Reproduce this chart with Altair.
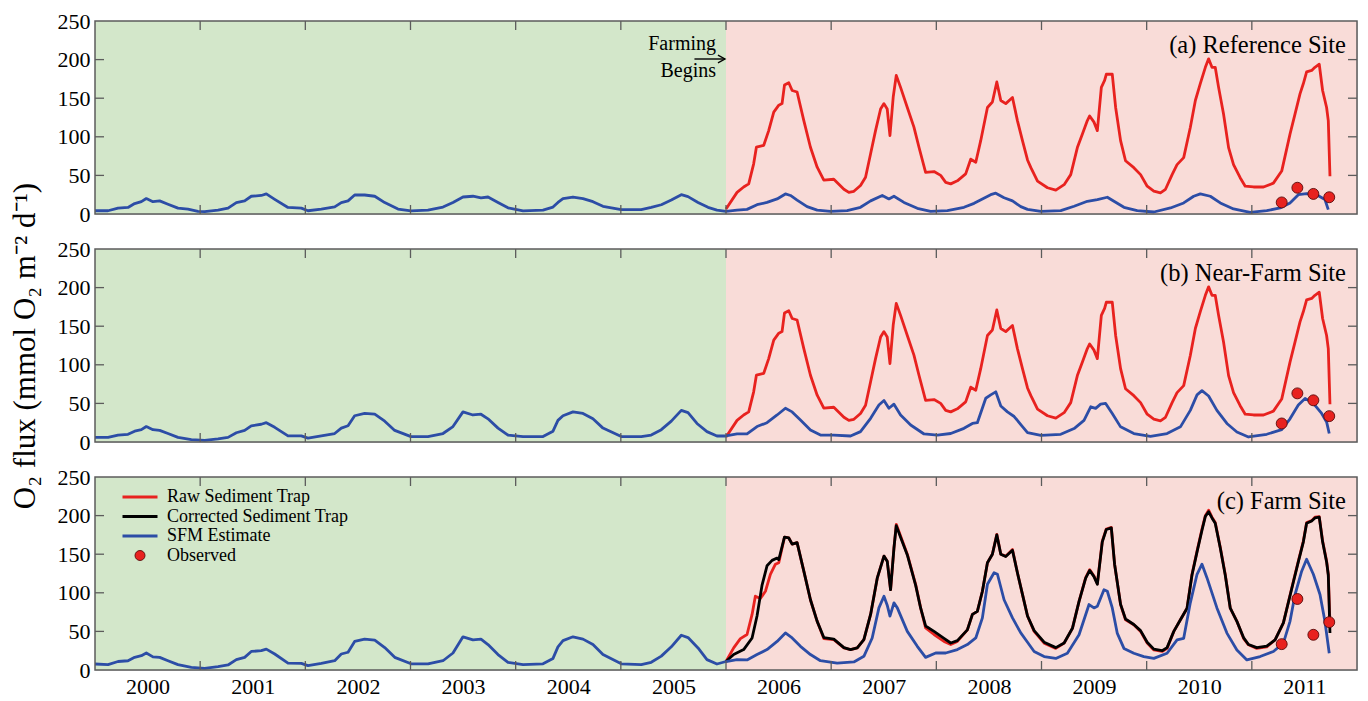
import altair as alt
import pandas as pd

# ---------------------------------------------------------------------------
# O2 flux (mmol O2 m-2 d-1) against decimal year (integer = January)
# ---------------------------------------------------------------------------

# Raw sediment-trap estimate at the reference and near-farm sites
RAW_AB = [
    (2005.500, 6.5), (2005.605, 28), (2005.668, 35), (2005.716, 39), (2005.763, 65),
    (2005.789, 86.5), (2005.859, 89), (2005.906, 108), (2005.954, 132), (2006.002, 141),
    (2006.033, 143), (2006.056, 167), (2006.097, 170), (2006.129, 160), (2006.176, 158),
    (2006.240, 121), (2006.303, 86.5), (2006.367, 60.6), (2006.430, 44), (2006.525, 45),
    (2006.621, 32), (2006.668, 28), (2006.716, 29.4), (2006.779, 37), (2006.827, 47.6),
    (2006.875, 78), (2006.922, 108), (2006.970, 136), (2007.002, 143), (2007.033, 136),
    (2007.059, 101.7), (2007.090, 151.5), (2007.119, 179.6), (2007.160, 164), (2007.224, 138),
    (2007.287, 112.5), (2007.335, 86.5), (2007.398, 54), (2007.478, 55), (2007.541, 50),
    (2007.589, 41), (2007.637, 39), (2007.700, 43), (2007.779, 52), (2007.827, 71),
    (2007.875, 67), (2007.922, 95), (2007.986, 138), (2008.033, 145), (2008.075, 171),
    (2008.113, 147), (2008.160, 143), (2008.224, 151), (2008.271, 121), (2008.319, 95),
    (2008.367, 70), (2008.399, 60), (2008.462, 42.6), (2008.557, 34), (2008.636, 31),
    (2008.715, 38), (2008.778, 51), (2008.841, 86), (2008.889, 103.5), (2008.936, 121),
    (2008.958, 127), (2008.999, 119), (2009.031, 108), (2009.069, 164), (2009.100, 173),
    (2009.116, 181), (2009.173, 181), (2009.205, 138), (2009.252, 95), (2009.299, 69),
    (2009.378, 60), (2009.442, 51), (2009.505, 36), (2009.568, 29.6), (2009.631, 27.4),
    (2009.679, 32), (2009.742, 51), (2009.789, 64), (2009.852, 73), (2009.915, 112),
    (2009.963, 147), (2010.010, 169), (2010.058, 190), (2010.089, 201), (2010.121, 190),
    (2010.152, 190), (2010.184, 164), (2010.231, 129.6), (2010.279, 86), (2010.326, 64),
    (2010.389, 47), (2010.437, 36), (2010.516, 35), (2010.611, 35), (2010.705, 40),
    (2010.784, 55.6), (2010.863, 103.5), (2010.911, 129.6), (2010.958, 155.6), (2010.990, 169),
    (2011.021, 184), (2011.069, 186), (2011.100, 190), (2011.141, 194), (2011.173, 160),
    (2011.211, 138), (2011.227, 121), (2011.243, 49),
]

# Raw and corrected sediment-trap estimates at the farm site
RAW_C = [
    (2005.500, 11), (2005.573, 28.6), (2005.637, 40.7), (2005.700, 46), (2005.748, 72),
    (2005.779, 95.6), (2005.827, 92.6), (2005.875, 102), (2005.922, 124), (2005.970, 137),
    (2006.002, 139), (2006.056, 172), (2006.097, 171), (2006.129, 163), (2006.176, 165),
    (2006.240, 128), (2006.303, 91), (2006.367, 63), (2006.430, 40.7), (2006.525, 39.4),
    (2006.621, 28.6), (2006.684, 26.4), (2006.748, 28.6), (2006.811, 39.4), (2006.875, 72),
    (2006.938, 119), (2007.002, 147.5), (2007.033, 141), (2007.065, 104), (2007.097, 158),
    (2007.119, 188.7), (2007.160, 173.5), (2007.224, 150), (2007.303, 111), (2007.351, 80.5),
    (2007.398, 54.5), (2007.478, 46), (2007.573, 37), (2007.637, 33), (2007.700, 37),
    (2007.795, 52), (2007.843, 72), (2007.890, 76), (2007.938, 102), (2007.986, 139),
    (2008.033, 150), (2008.075, 175.7), (2008.113, 150), (2008.160, 147.5), (2008.224, 156),
    (2008.271, 126), (2008.319, 98), (2008.367, 70), (2008.430, 50), (2008.525, 34.8),
    (2008.636, 28), (2008.715, 34.8), (2008.794, 54), (2008.857, 89), (2008.920, 119.6),
    (2008.958, 130), (2008.999, 121.7), (2009.031, 111.7), (2009.078, 167), (2009.116, 182.6),
    (2009.164, 184.8), (2009.195, 137), (2009.252, 84.8), (2009.299, 65), (2009.378, 58.7),
    (2009.442, 50), (2009.505, 34.8), (2009.568, 26), (2009.647, 24), (2009.694, 28),
    (2009.758, 50), (2009.821, 65), (2009.884, 80), (2009.931, 124), (2009.979, 154),
    (2010.026, 182.6), (2010.058, 200), (2010.089, 207), (2010.121, 198), (2010.152, 191),
    (2010.200, 158.7), (2010.247, 124), (2010.295, 80), (2010.358, 63), (2010.421, 41),
    (2010.468, 32.6), (2010.547, 28), (2010.642, 30), (2010.721, 39), (2010.800, 61),
    (2010.895, 115), (2010.942, 141), (2010.990, 167), (2011.021, 191), (2011.069, 193.5),
    (2011.100, 198), (2011.141, 198.7), (2011.173, 167), (2011.211, 141), (2011.227, 124),
    (2011.243, 60),
]

CORRECTED_C = [
    (2005.500, 11), (2005.573, 20), (2005.668, 26.4), (2005.748, 41.5), (2005.795, 70),
    (2005.843, 110), (2005.890, 135), (2005.938, 142), (2005.986, 145), (2006.002, 143),
    (2006.056, 172), (2006.097, 171), (2006.129, 163), (2006.176, 165), (2006.240, 128),
    (2006.303, 91), (2006.367, 63), (2006.430, 42), (2006.525, 40), (2006.621, 29),
    (2006.684, 26.4), (2006.748, 28.6), (2006.811, 39.4), (2006.875, 72), (2006.938, 119),
    (2007.002, 147.5), (2007.033, 141), (2007.065, 104), (2007.097, 158), (2007.119, 187),
    (2007.160, 172), (2007.224, 149), (2007.303, 110), (2007.351, 80), (2007.398, 57),
    (2007.478, 50), (2007.573, 41), (2007.637, 35), (2007.700, 38), (2007.795, 52),
    (2007.843, 72), (2007.890, 76), (2007.938, 102), (2007.986, 139), (2008.033, 150),
    (2008.075, 175), (2008.113, 150), (2008.160, 147), (2008.224, 155), (2008.271, 126),
    (2008.319, 98), (2008.367, 70), (2008.430, 51), (2008.525, 36), (2008.636, 29),
    (2008.715, 35), (2008.794, 54), (2008.857, 89), (2008.920, 119), (2008.958, 129),
    (2008.999, 121), (2009.031, 111), (2009.078, 166), (2009.116, 182), (2009.164, 184),
    (2009.195, 137), (2009.252, 85), (2009.299, 66), (2009.378, 59), (2009.442, 51),
    (2009.505, 36), (2009.568, 27), (2009.647, 25), (2009.694, 29), (2009.758, 50),
    (2009.821, 65), (2009.884, 80), (2009.931, 123), (2009.979, 153), (2010.026, 181),
    (2010.058, 199), (2010.089, 205), (2010.121, 197), (2010.152, 190), (2010.200, 158),
    (2010.247, 123), (2010.295, 80), (2010.358, 63), (2010.421, 42), (2010.468, 33),
    (2010.547, 29), (2010.642, 31), (2010.721, 39), (2010.800, 61), (2010.895, 114),
    (2010.942, 140), (2010.990, 166), (2011.021, 190), (2011.069, 193), (2011.100, 197),
    (2011.141, 198), (2011.173, 166), (2011.211, 140), (2011.227, 123), (2011.243, 48),
]

# SFM estimate, one series per site
SFM_A = [
    (1999.500, 4.2), (1999.624, 4.2), (1999.719, 7.6), (1999.814, 8.5), (1999.877, 13.5),
    (1999.941, 16), (1999.988, 20), (2000.051, 16), (2000.115, 17), (2000.194, 12.7),
    (2000.289, 7.6), (2000.384, 6.4), (2000.479, 3.4), (2000.543, 3), (2000.670, 5),
    (2000.765, 7.6), (2000.844, 14.8), (2000.923, 17), (2000.986, 23), (2001.081, 24),
    (2001.129, 26), (2001.209, 19), (2001.335, 8.5), (2001.462, 7.6), (2001.525, 4.2),
    (2001.652, 6.4), (2001.779, 9.3), (2001.842, 14.8), (2001.906, 17), (2001.969, 24.6),
    (2002.064, 24.6), (2002.160, 23), (2002.255, 14.8), (2002.381, 6.4), (2002.505, 4),
    (2002.666, 5), (2002.809, 9), (2002.904, 15), (2002.999, 22), (2003.094, 23),
    (2003.170, 21), (2003.237, 22), (2003.332, 15), (2003.427, 8), (2003.570, 4),
    (2003.760, 5), (2003.855, 9), (2003.902, 15), (2003.950, 20), (2004.045, 22),
    (2004.140, 20), (2004.235, 16), (2004.330, 10), (2004.504, 5.6), (2004.694, 5.6),
    (2004.789, 8.6), (2004.885, 12), (2004.980, 18), (2005.075, 25), (2005.139, 22.5),
    (2005.234, 15), (2005.329, 8.6), (2005.414, 5), (2005.500, 3.5), (2005.605, 5),
    (2005.700, 6), (2005.795, 12), (2005.890, 15), (2005.986, 19.5), (2006.065, 26),
    (2006.113, 24), (2006.176, 18), (2006.271, 9.5), (2006.367, 5), (2006.494, 3.5),
    (2006.652, 4.3), (2006.779, 8.7), (2006.875, 17), (2006.986, 24), (2007.049, 19.5),
    (2007.097, 23), (2007.192, 15), (2007.319, 7.4), (2007.446, 3.5), (2007.605, 4.3),
    (2007.763, 8.7), (2007.859, 13.8), (2007.938, 19.5), (2008.017, 25), (2008.065, 27),
    (2008.144, 21), (2008.224, 17), (2008.303, 9.5), (2008.367, 6), (2008.494, 3.5),
    (2008.683, 4.3), (2008.810, 10), (2008.936, 16.5), (2009.031, 18.7), (2009.126, 21.7),
    (2009.189, 16.5), (2009.284, 8.7), (2009.410, 4.3), (2009.568, 2.6), (2009.726, 7.8),
    (2009.852, 14.3), (2009.947, 23), (2010.010, 26), (2010.105, 23), (2010.200, 14.3),
    (2010.326, 6.5), (2010.484, 2), (2010.642, 4.3), (2010.769, 7.8), (2010.863, 14.3),
    (2010.942, 25), (2011.021, 26.5), (2011.116, 25), (2011.195, 18.7), (2011.227, 5.6),
]

SFM_B = [
    (1999.500, 6), (1999.624, 6), (1999.719, 9), (1999.814, 10), (1999.877, 14),
    (1999.941, 16), (1999.988, 20), (2000.051, 16), (2000.115, 15), (2000.194, 11),
    (2000.289, 6), (2000.416, 3), (2000.543, 2), (2000.670, 4), (2000.765, 6),
    (2000.844, 12), (2000.923, 15), (2000.986, 21), (2001.081, 23), (2001.129, 25),
    (2001.209, 19), (2001.335, 8), (2001.462, 8), (2001.525, 5), (2001.652, 8),
    (2001.779, 11), (2001.842, 18), (2001.906, 21), (2001.969, 34), (2002.064, 37),
    (2002.160, 36), (2002.255, 27), (2002.350, 15), (2002.505, 7), (2002.666, 7),
    (2002.809, 11), (2002.904, 20), (2002.999, 39), (2003.094, 35), (2003.170, 36),
    (2003.237, 30), (2003.332, 18), (2003.427, 9), (2003.570, 7), (2003.760, 7),
    (2003.855, 14), (2003.902, 28), (2003.950, 34), (2004.045, 39), (2004.140, 37),
    (2004.235, 30), (2004.330, 18), (2004.504, 7), (2004.694, 7), (2004.789, 9),
    (2004.885, 16), (2004.980, 27), (2005.075, 41), (2005.139, 38), (2005.224, 24),
    (2005.319, 13.4), (2005.414, 7.8), (2005.500, 7.8), (2005.605, 10.4), (2005.700, 10.4),
    (2005.795, 20), (2005.890, 25), (2005.986, 35), (2006.065, 43.7), (2006.129, 39),
    (2006.208, 28.5), (2006.303, 15.6), (2006.398, 9), (2006.525, 9), (2006.684, 7.8),
    (2006.779, 13.4), (2006.875, 30.7), (2006.954, 48), (2007.002, 53.7), (2007.049, 43.7),
    (2007.097, 49), (2007.160, 35), (2007.256, 22), (2007.383, 10.4), (2007.510, 9),
    (2007.637, 11), (2007.763, 17.7), (2007.843, 24), (2007.890, 25), (2007.970, 56.7),
    (2008.017, 61), (2008.065, 65), (2008.113, 46.7), (2008.176, 39), (2008.240, 33),
    (2008.319, 20), (2008.367, 12), (2008.494, 8.7), (2008.683, 10), (2008.810, 17.4),
    (2008.904, 28), (2008.968, 45.6), (2009.015, 43.5), (2009.062, 49), (2009.110, 50),
    (2009.173, 37), (2009.252, 19.6), (2009.378, 11), (2009.536, 7.4), (2009.694, 11),
    (2009.821, 19.6), (2009.915, 41), (2009.979, 61), (2010.026, 66.5), (2010.089, 59.6),
    (2010.168, 41), (2010.263, 24), (2010.358, 13), (2010.468, 6.5), (2010.642, 10),
    (2010.784, 16), (2010.863, 30), (2010.942, 48), (2011.006, 56.5), (2011.085, 50),
    (2011.164, 37), (2011.211, 26), (2011.236, 11),
]

SFM_C = [
    (1999.500, 7.8), (1999.624, 7), (1999.719, 11), (1999.814, 12), (1999.877, 16.4),
    (1999.941, 18.5), (1999.988, 22), (2000.051, 17), (2000.115, 16.4), (2000.194, 12),
    (2000.289, 7), (2000.416, 3.4), (2000.543, 2), (2000.670, 4.3), (2000.765, 6.5),
    (2000.844, 13.4), (2000.923, 16.4), (2000.986, 24), (2001.081, 25), (2001.129, 27),
    (2001.209, 20.7), (2001.335, 9), (2001.462, 8.6), (2001.525, 5.6), (2001.652, 8.6),
    (2001.779, 12), (2001.842, 20.7), (2001.906, 23), (2001.969, 37), (2002.064, 40),
    (2002.160, 38.8), (2002.255, 29), (2002.350, 16.4), (2002.505, 8), (2002.666, 8),
    (2002.809, 12), (2002.904, 22), (2002.999, 43), (2003.094, 39), (2003.170, 40),
    (2003.237, 33), (2003.332, 20), (2003.427, 10), (2003.570, 7), (2003.760, 8),
    (2003.855, 15), (2003.902, 30), (2003.950, 38), (2004.045, 43), (2004.140, 40),
    (2004.235, 33), (2004.330, 20), (2004.504, 8), (2004.694, 7), (2004.789, 10),
    (2004.885, 18), (2004.980, 30), (2005.075, 45), (2005.139, 42), (2005.234, 28.6),
    (2005.319, 13.4), (2005.414, 7.8), (2005.500, 11), (2005.605, 13.4), (2005.700, 13),
    (2005.795, 20), (2005.890, 26.4), (2005.986, 37), (2006.065, 48), (2006.129, 41.5),
    (2006.208, 30.7), (2006.303, 20), (2006.398, 12), (2006.557, 9), (2006.716, 10.4),
    (2006.811, 17.7), (2006.890, 41.5), (2006.954, 80.5), (2007.002, 95.6), (2007.033, 84),
    (2007.059, 69.7), (2007.097, 87), (2007.129, 80.5), (2007.224, 50), (2007.319, 30.7),
    (2007.398, 16.4), (2007.494, 22), (2007.589, 22), (2007.700, 26.4), (2007.795, 33),
    (2007.875, 41.5), (2007.938, 67.5), (2007.986, 111), (2008.049, 126), (2008.081, 124),
    (2008.144, 91), (2008.224, 67.5), (2008.303, 48), (2008.367, 36), (2008.430, 24),
    (2008.525, 17.4), (2008.636, 15), (2008.746, 21.7), (2008.857, 45.6), (2008.952, 84.8),
    (2008.999, 80.4), (2009.031, 82.6), (2009.094, 104), (2009.126, 102), (2009.173, 80.4),
    (2009.220, 47.8), (2009.284, 28), (2009.378, 21.7), (2009.473, 17.4), (2009.568, 15),
    (2009.694, 21.7), (2009.789, 39), (2009.852, 41), (2009.915, 87), (2009.979, 124),
    (2010.026, 137), (2010.073, 119.6), (2010.168, 80.4), (2010.263, 47.8), (2010.358, 26),
    (2010.453, 13), (2010.579, 17.4), (2010.705, 24), (2010.800, 34.8), (2010.863, 63),
    (2010.911, 97.8), (2010.974, 128), (2011.021, 143.5), (2011.085, 124), (2011.148, 97.8),
    (2011.195, 63), (2011.236, 21.7),
]

# Observed fluxes
OBS_A = [(2010.784, 15), (2010.933, 34), (2011.085, 26), (2011.236, 21.7)]
OBS_B = [(2010.784, 24), (2010.933, 63), (2011.085, 54), (2011.236, 33.5)]
OBS_C = [(2010.784, 33.5), (2010.933, 92), (2011.085, 45.6), (2011.236, 62)]

SERIES = ["Raw Sediment Trap", "Corrected Sediment Trap", "SFM Estimate", "Observed"]
PANEL_TAGS = ["(a) Reference Site", "(b) Near-Farm Site", "(c) Farm Site"]
YEAR_LABELS = list(range(2000, 2012))
X_TICKS = [y + 0.5 for y in range(2000, 2011)]
Y_LABELS = [0, 50, 100, 150, 200, 250]
Y_TICKS = [50, 100, 150, 200]
X_MIN, X_MAX = 1999.5, 2011.5
FARM_START = 2005.5
Y_TITLE = "O\u2082 flux (mmol O\u2082 m\u207b\u00b2 d\u207b\u00b9)"

# ---------------------------------------------------------------------------
# styling
# ---------------------------------------------------------------------------
RED = "#e8221f"
BLACK = "#000000"
BLUE = "#2c4da6"
DOT_EDGE = "#5a0a0a"
GREEN_BG = "#d3e7ca"
PINK_BG = "#f9dcd8"
FRAME = "#5c5c5c"
FONT = "Liberation Serif"
W, H = 1262, 193
TICK_LEN = 9
LINE_W = 2.8
LINE_GLYPH = "M-3.5,0L3.5,0"

x_scale = alt.Scale(domain=[X_MIN, X_MAX], nice=False, zero=False)
y_scale = alt.Scale(domain=[0, 250], nice=False)
stroke_scale = alt.Scale(domain=SERIES, range=[RED, BLACK, BLUE, DOT_EDGE])
fill_scale = alt.Scale(domain=SERIES, range=[RED, BLACK, BLUE, RED])
shape_scale = alt.Scale(domain=SERIES, range=[LINE_GLYPH, LINE_GLYPH, LINE_GLYPH, "circle"])
width_scale = alt.Scale(type="ordinal", domain=SERIES, range=[LINE_W, LINE_W, LINE_W, 0.9])

LEGEND = alt.Legend(
    title=None, orient="none", legendX=36, legendY=11, padding=0,
    labelFont=FONT, labelFontSize=18, labelColor="black", labelOffset=18,
    labelLimit=400, rowPadding=1.5, symbolSize=100, symbolOpacity=1,
)


def series_frame(pairs, name):
    return pd.DataFrame({"year": [p[0] for p in pairs],
                         "flux": [p[1] for p in pairs],
                         "series": name})


periods = pd.DataFrame({
    "start": [X_MIN, FARM_START], "end": [FARM_START, X_MAX],
    "lo": [0, 0], "hi": [250, 250], "period": ["before", "after"],
})
outline = pd.DataFrame({"start": [X_MIN], "end": [X_MAX], "lo": [0], "hi": [250]})
x_ticks = pd.DataFrame({"tick": X_TICKS})
y_ticks = pd.DataFrame({"tick": Y_TICKS})


def make_panel(tag, lines, observed, show_years=False, legend=False,
               y_title=None, farming_note=False):
    if show_years:
        x_axis = alt.Axis(values=YEAR_LABELS, format="d", ticks=False, domain=False,
                          grid=False, labelFont=FONT, labelFontSize=22,
                          labelColor="black", labelPadding=6, labelFlush=False,
                          title=None)
    else:
        x_axis = None
    y_kw = dict(values=Y_LABELS, ticks=False, domain=False, grid=False,
                labelFont=FONT, labelFontSize=22, labelColor="black", labelPadding=5)
    if y_title:
        y_kw.update(title=y_title, titleFont=FONT, titleFontSize=31,
                    titleFontWeight="normal", titleColor="black", titlePadding=16)
    else:
        y_kw.update(title=None)
    y_axis = alt.Axis(**y_kw)

    def X(field):
        return alt.X(field, type="quantitative", scale=x_scale, axis=x_axis)

    def Y(field):
        return alt.Y(field, type="quantitative", scale=y_scale, axis=y_axis)

    leg = LEGEND if legend else None

    background = alt.Chart(periods).mark_rect().encode(
        x=X("start"), x2="end", y=Y("lo"), y2="hi",
        color=alt.Color("period:N", scale=alt.Scale(domain=["before", "after"],
                                                    range=[GREEN_BG, PINK_BG]),
                        legend=None),
    )

    layers = [background]
    for pairs, name in lines:
        layers.append(
            alt.Chart(series_frame(pairs, name)).mark_line(
                strokeWidth=LINE_W, strokeJoin="round").encode(
                x=X("year"), y=Y("flux"),
                stroke=alt.Stroke("series:N", scale=stroke_scale, legend=leg),
            )
        )

    layers.append(
        alt.Chart(series_frame(observed, "Observed")).mark_point(
            filled=True, size=120, opacity=1).encode(
            x=X("year"), y=Y("flux"),
            fill=alt.Fill("series:N", scale=fill_scale, legend=leg),
            stroke=alt.Stroke("series:N", scale=stroke_scale, legend=leg),
            shape=alt.Shape("series:N", scale=shape_scale, legend=leg),
            strokeWidth=alt.StrokeWidth("series:N", scale=width_scale, legend=leg),
        )
    )

    # inward ticks on all four sides
    tick_style = dict(color=FRAME, strokeWidth=1.3)
    layers += [
        alt.Chart(x_ticks).mark_rule(**tick_style).encode(
            x=X("tick"), y=alt.value(0), y2=alt.value(TICK_LEN)),
        alt.Chart(x_ticks).mark_rule(**tick_style).encode(
            x=X("tick"), y=alt.value(H - TICK_LEN), y2=alt.value(H)),
        alt.Chart(y_ticks).mark_rule(**tick_style).encode(
            y=Y("tick"), x=alt.value(0), x2=alt.value(TICK_LEN)),
        alt.Chart(y_ticks).mark_rule(**tick_style).encode(
            y=Y("tick"), x=alt.value(W - TICK_LEN), x2=alt.value(W)),
    ]

    # panel frame
    layers.append(
        alt.Chart(outline).mark_rect(fillOpacity=0, stroke=FRAME, strokeWidth=1.5).encode(
            x=X("start"), x2="end", y=Y("lo"), y2="hi")
    )

    layers.append(
        alt.Chart(pd.DataFrame({"tag": [tag]})).mark_text(
            align="right", baseline="alphabetic", font=FONT, fontSize=24.5,
            color="black").encode(
            text="tag:N", x=alt.value(W - 11), y=alt.value(32))
    )

    if farming_note:
        note = pd.DataFrame({"year": [FARM_START], "word1": ["Farming"], "word2": ["Begins"]})
        arrow = pd.DataFrame({"start": [2005.20], "end": [2005.49]})
        text_style = dict(align="right", baseline="alphabetic", font=FONT,
                          fontSize=20, color="black", dx=-10)
        layers += [
            alt.Chart(note).mark_text(**text_style).encode(
                x=X("year"), y=alt.value(29), text="word1:N"),
            alt.Chart(note).mark_text(**text_style).encode(
                x=X("year"), y=alt.value(56), text="word2:N"),
            alt.Chart(arrow).mark_rule(color="black", strokeWidth=1.4).encode(
                x=X("start"), x2="end", y=alt.value(38)),
            alt.Chart(arrow).mark_point(
                shape="M-1,-0.55L0,0L-1,0.55", filled=False, size=196,
                color="black", strokeWidth=1.4, opacity=1).encode(
                x=X("end"), y=alt.value(38)),
        ]

    return alt.layer(*layers).properties(width=W, height=H)


panel_a = make_panel(PANEL_TAGS[0], [(RAW_AB, SERIES[0]), (SFM_A, SERIES[2])], OBS_A,
                     farming_note=True)
panel_b = make_panel(PANEL_TAGS[1], [(RAW_AB, SERIES[0]), (SFM_B, SERIES[2])], OBS_B,
                     y_title=Y_TITLE)
panel_c = make_panel(PANEL_TAGS[2],
                     [(RAW_C, SERIES[0]), (CORRECTED_C, SERIES[1]), (SFM_C, SERIES[2])],
                     OBS_C, show_years=True, legend=True)

chart = (
    alt.vconcat(panel_a, panel_b, panel_c, spacing=35, bounds="flush")
    .resolve_scale(stroke="independent", fill="independent", shape="independent",
                   strokeWidth="independent")
    .properties(padding={"left": 8, "top": 9, "right": 4, "bottom": 1})
    .configure_view(stroke=None)
    .configure(background="white")
)

chart.save("out.html", embed_options={"renderer": "svg", "actions": False})
